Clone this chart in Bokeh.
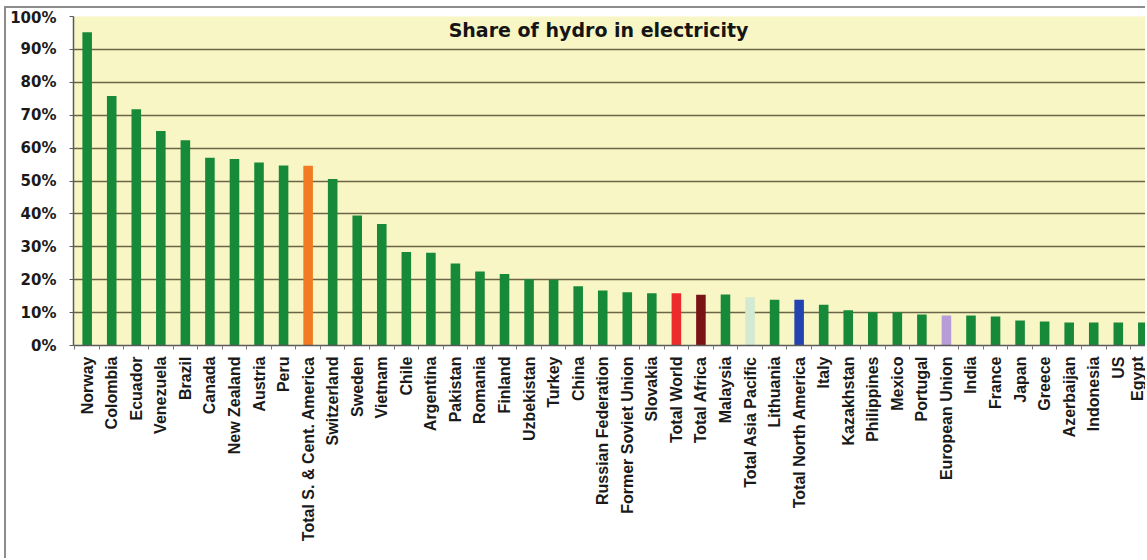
import math

from bokeh.plotting import figure
from bokeh.models import Range1d, FixedTicker, NumeralTickFormatter, Label, ColumnDataSource
from bokeh.embed import file_html
from bokeh.resources import INLINE

# Share of hydro power in electricity generation, by country / region (%)
countries = [
    "Norway", "Colombia", "Ecuador", "Venezuela", "Brazil", "Canada",
    "New Zealand", "Austria", "Peru", "Total S. & Cent. America",
    "Switzerland", "Sweden", "Vietnam", "Chile", "Argentina", "Pakistan",
    "Romania", "Finland", "Uzbekistan", "Turkey", "China",
    "Russian Federation", "Former Soviet Union", "Slovakia", "Total World",
    "Total Africa", "Malaysia", "Total Asia Pacific", "Lithuania",
    "Total North America", "Italy", "Kazakhstan", "Philippines", "Mexico",
    "Portugal", "European Union", "India", "France", "Japan", "Greece",
    "Azerbaijan", "Indonesia", "US", "Egypt",
]
hydro_share = [
    95.2, 75.8, 71.8, 65.2, 62.4, 57.1,
    56.7, 55.6, 54.7, 54.6,
    50.6, 39.5, 36.9, 28.4, 28.2, 24.9,
    22.5, 21.7, 20.1, 20.0, 18.0,
    16.7, 16.2, 15.9, 15.9,
    15.4, 15.5, 14.7, 13.9,
    13.9, 12.4, 10.7, 10.1, 10.1,
    9.4, 9.1, 9.1, 8.8, 7.6, 7.3,
    7.0, 7.0, 7.0, 7.0,
]
y_ticks = [0, 0.1, 0.2, 0.3, 0.4, 0.5, 0.6, 0.7, 0.8, 0.9, 1.0]
title_text = "Share of hydro in electricity"

# Colours: regional aggregates are picked out from the country bars
BAR_GREEN = "#178a3a"
aggregate_colors = {
    "Total S. & Cent. America": "#f27a22",
    "Total World": "#ee2b2b",
    "Total Africa": "#7a1414",
    "Total Asia Pacific": "#d3e9d1",
    "Total North America": "#2344b0",
    "European Union": "#b79cd8",
}
bar_colors = [aggregate_colors.get(c, BAR_GREEN) for c in countries]

xs = list(range(len(countries)))
source = ColumnDataSource(dict(
    x=xs,
    share=[v / 100 for v in hydro_share],
    color=bar_colors,
    name=countries,
))

# The chart sits inside a thin grey frame drawn on its top and left edges
p = figure(
    width=1141, height=552, margin=(6, 0, 0, 4),
    styles={"border-top": "2px solid #8c8c8c", "border-left": "2px solid #8c8c8c"},
    output_backend="svg", toolbar_location=None,
    x_range=Range1d(-0.557, 43.19), y_range=Range1d(0, 1),
    min_border_left=67, min_border_right=0,
    min_border_top=8, min_border_bottom=215,
    background_fill_color="#f8f6c4", border_fill_color="white",
    outline_line_color=None,
)

p.vbar(x="x", top="share", width=0.39, bottom=0, source=source,
       fill_color="color", line_color=None)

# y axis: percentages with dark olive gridlines
p.yaxis.ticker = FixedTicker(ticks=y_ticks)
p.yaxis.formatter = NumeralTickFormatter(format="0%")
p.yaxis.major_tick_out = 4
p.yaxis.major_tick_in = 0
p.yaxis.minor_tick_line_color = None
p.yaxis.major_label_standoff = 13
p.yaxis.major_label_text_font = "DejaVu Sans"
p.yaxis.major_label_text_font_style = "bold"
p.yaxis.major_label_text_font_size = "15px"
p.yaxis.major_label_text_color = "#1a1a1a"
p.yaxis.axis_line_color = "#5a5a5a"
p.yaxis.axis_line_width = 1.5
p.yaxis.major_tick_line_color = "#5a5a5a"

p.ygrid.ticker = FixedTicker(ticks=y_ticks)
p.ygrid.grid_line_color = "#6b6446"
p.ygrid.grid_line_width = 1.5
p.xgrid.grid_line_color = None

# x axis: one label per bar, small separator ticks between bars
p.xaxis.ticker = FixedTicker(ticks=xs, minor_ticks=[i - 0.5 for i in range(len(countries) + 1)])
p.xaxis.major_label_overrides = {i: c for i, c in enumerate(countries)}
p.xaxis.major_label_orientation = math.pi / 2
p.xaxis.major_tick_line_color = None
p.xaxis.major_tick_out = 0
p.xaxis.major_tick_in = 0
p.xaxis.minor_tick_out = 4
p.xaxis.minor_tick_in = 0
p.xaxis.minor_tick_line_color = "#777777"
p.xaxis.major_label_standoff = 7
p.xaxis.major_label_text_font = "Liberation Sans"
p.xaxis.major_label_text_font_style = "bold"
p.xaxis.major_label_text_font_size = "16px"
p.xaxis.major_label_text_color = "#1a1a1a"
p.xaxis.axis_line_color = "#5a5a5a"
p.xaxis.axis_line_width = 1.5

# chart title inside the plotting area
p.add_layout(Label(
    x=20.83, y=0.958, text=title_text,
    text_align="center", text_baseline="middle",
    text_font="DejaVu Sans", text_font_style="bold",
    text_font_size="19px", text_color="#151515",
))

open("out.html", "w").write(file_html(p, INLINE))
